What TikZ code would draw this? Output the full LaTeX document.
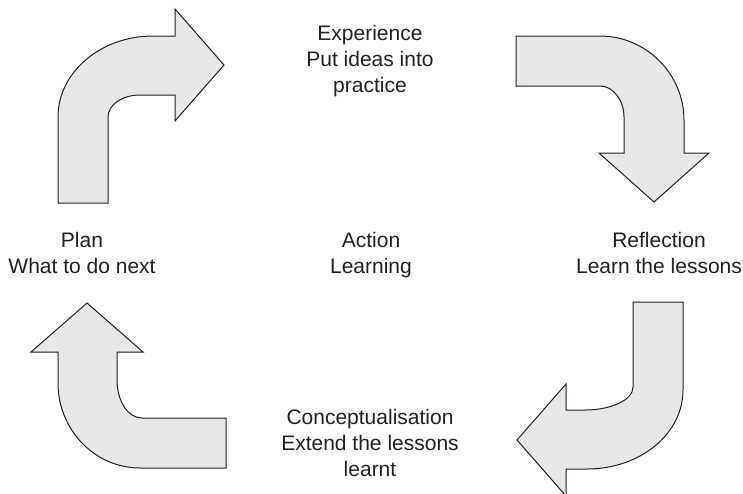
\documentclass[tikz,border=0pt]{standalone}
\usepackage{fontspec}
\setmainfont{Liberation Sans}
\definecolor{arrowfill}{HTML}{E6E7E8}
\definecolor{inkcol}{HTML}{231F20}
\begin{document}
\begin{tikzpicture}[x=1pt,y=-1pt,
  bentarrow/.style={draw=inkcol, fill=arrowfill, line width=1pt, line join=miter},
  lbl/.style={align=center, inner sep=0pt, anchor=north, text=inkcol,
    font=\fontsize{21}{26}\selectfont}]
\useasboundingbox (0,0) rectangle (743,493);
% arrow 1 (top-left, pointing right)
\draw[bentarrow] (58,203) -- (58,117) .. controls (58,72) and (101,36) .. (153,36)
  -- (175,36) -- (175,9) -- (224,65) -- (175,121) -- (175,95) -- (140,95)
  .. controls (122,95) and (108,105) .. (108,117) -- (108,203) -- cycle;
% arrow 2 (top-right, pointing down)
\draw[bentarrow] (516,36) -- (600,36) .. controls (646,36) and (684,74) .. (684,120)
  -- (684,153) -- (709,153) -- (654,202) -- (599,153) -- (624,153) -- (624,117)
  .. controls (624,100) and (613,86) .. (600,86) -- (516,86) -- cycle;
% arrow 3 (bottom-right, pointing left)
\draw[bentarrow] (633,302) -- (683,302) -- (683,390) .. controls (683,434) and (640,469) .. (587,469)
  -- (566,469) -- (566,496) -- (517,440) -- (566,384) -- (566,410) -- (585,410)
  .. controls (611,410) and (633,400) .. (633,387) -- cycle;
% arrow 4 (bottom-left, pointing up)
\draw[bentarrow] (87,303) -- (143,352) -- (117,352) -- (117,380)
  .. controls (117,401) and (128,418) .. (142,418) -- (226,418) -- (226,468) -- (140,468)
  .. controls (95,468) and (58,430) .. (58,383) -- (58,352) -- (31,352) -- cycle;
% labels
\node[lbl] (exp) at (370,25) {Experience\\Put ideas into\\practice};
\node[lbl] (plan) at (82,232) {Plan\\What to do next};
\node[lbl] (act) at (371,232) {Action\\Learning};
\node[lbl] (refl) at (659,232) {Reflection\\Learn the lessons};
\node[lbl] (conc) at (370,409) {Conceptualisation\\Extend the lessons\\learnt};
\end{tikzpicture}
\end{document}
